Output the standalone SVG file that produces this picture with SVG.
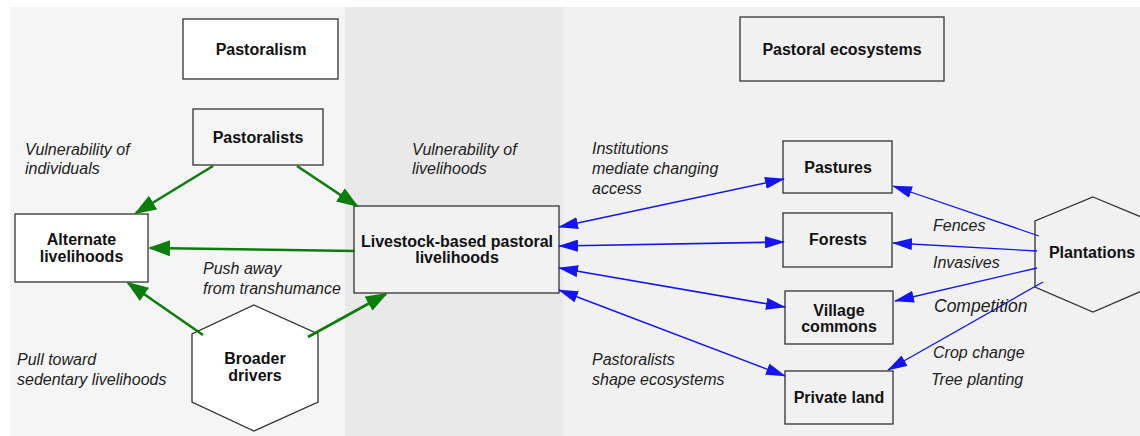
<svg xmlns="http://www.w3.org/2000/svg" width="1140" height="436" viewBox="0 0 1140 436">
<style>
.box{stroke:#333;stroke-width:1.3}
.t{font-family:"Liberation Sans",Arial,sans-serif;font-size:16px;font-weight:bold;fill:#111;text-anchor:middle}
.l{font-family:"Liberation Sans",Arial,sans-serif;font-size:16px;font-style:italic;fill:#222}
.g{stroke:#0a7d0a;stroke-width:2.6;fill:none}
.b{stroke:#1414f5;stroke-width:1.6;fill:none}
.b2{stroke:#1414f5;stroke-width:1.3;fill:none}
</style>
<defs>
<marker id="ag" markerUnits="userSpaceOnUse" markerWidth="22" markerHeight="16" viewBox="0 0 22 16" refX="20" refY="8" orient="auto"><path d="M0,0 L22,8 L0,16 z" fill="#0a7d0a"/></marker>
<marker id="ab" markerUnits="userSpaceOnUse" markerWidth="20" markerHeight="12" viewBox="0 0 20 12" refX="19" refY="6" orient="auto-start-reverse"><path d="M0,0 L20,6 L0,12 z" fill="#1414f5"/></marker>
</defs>
<rect x="0" y="0" width="1140" height="436" fill="#ffffff"/>
<rect x="10" y="7" width="335" height="429" fill="#f5f5f5"/>
<rect x="345" y="7" width="218" height="429" fill="#e9e9e9"/>
<rect x="563" y="7" width="577" height="429" fill="#f1f1f1"/>

<g id="pastoralism"><rect class="box" x="183" y="19" width="155" height="60" fill="#ffffff"/><text class="t" x="261" y="55">Pastoralism</text></g>
<g id="pastoralists"><rect class="box" x="193" y="109" width="130" height="56" fill="#f5f5f5"/><text class="t" x="258" y="143">Pastoralists</text></g>
<g id="alternate"><rect class="box" x="15" y="214" width="133" height="68" fill="#ffffff"/><text class="t" x="81.5" y="245">Alternate</text><text class="t" x="81.5" y="262">livelihoods</text></g>
<g id="livestock"><rect class="box" x="354" y="206" width="205" height="87" fill="#f2f2f2"/><text class="t" x="457" y="247">Livestock-based pastoral</text><text class="t" x="457" y="263">livelihoods</text></g>
<g id="broader"><polygon class="box" points="254,305 318,334 318,402 254,431 192,402 192,334" fill="#ffffff"/><text class="t" x="255" y="364">Broader</text><text class="t" x="255" y="381">drivers</text></g>
<g id="ecosystems"><rect class="box" x="740" y="17" width="204" height="64" fill="#f1f1f1"/><text class="t" x="842" y="55">Pastoral ecosystems</text></g>
<g id="pastures"><rect class="box" x="783" y="141" width="109" height="52" fill="#f1f1f1"/><text class="t" x="838" y="173">Pastures</text></g>
<g id="forests"><rect class="box" x="783" y="213" width="109" height="54" fill="#f1f1f1"/><text class="t" x="838" y="245">Forests</text></g>
<g id="village"><rect class="box" x="785" y="291" width="108" height="53" fill="#f1f1f1"/><text class="t" x="839" y="316">Village</text><text class="t" x="839" y="332">commons</text></g>
<g id="private"><rect class="box" x="785" y="371" width="108" height="53" fill="#f1f1f1"/><text class="t" x="839" y="403">Private land</text></g>
<g id="plantations"><polygon class="box" points="1093,197 1151,221 1151,287 1093,312 1035,287 1035,221" fill="#f1f1f1"/><text class="t" x="1092" y="258">Plantations</text></g>

<g id="connectors">
<line class="g" x1="213" y1="166" x2="136" y2="213" marker-end="url(#ag)"/>
<line class="g" x1="297" y1="166" x2="357" y2="206" marker-end="url(#ag)"/>
<line class="g" x1="355" y1="251" x2="150" y2="248" marker-end="url(#ag)"/>
<line class="g" x1="203" y1="335" x2="128" y2="283" marker-end="url(#ag)"/>
<line class="g" x1="308" y1="337" x2="386" y2="294" marker-end="url(#ag)"/>
<line class="b" x1="559" y1="227" x2="784" y2="179" marker-start="url(#ab)" marker-end="url(#ab)"/>
<line class="b" x1="559" y1="246" x2="784" y2="242" marker-start="url(#ab)" marker-end="url(#ab)"/>
<line class="b" x1="559" y1="268" x2="785" y2="307" marker-start="url(#ab)" marker-end="url(#ab)"/>
<line class="b" x1="559" y1="290" x2="785" y2="376" marker-start="url(#ab)" marker-end="url(#ab)"/>
<line class="b2" x1="1039" y1="236" x2="893" y2="186" marker-end="url(#ab)"/>
<line class="b2" x1="1037" y1="251" x2="893" y2="243" marker-end="url(#ab)"/>
<line class="b2" x1="1037" y1="268" x2="895" y2="301" marker-end="url(#ab)"/>
<line class="b2" x1="1043" y1="282" x2="888" y2="370" marker-end="url(#ab)"/>
</g>

<g id="labels">
<text class="l" x="25" y="155">Vulnerability of</text>
<text class="l" x="25" y="174">individuals</text>
<text class="l" x="412" y="155">Vulnerability of</text>
<text class="l" x="412" y="174">livelihoods</text>
<text class="l" x="592" y="154">Institutions</text>
<text class="l" x="592" y="174">mediate changing</text>
<text class="l" x="592" y="194">access</text>
<text class="l" x="203" y="274">Push away</text>
<text class="l" x="203" y="294">from transhumance</text>
<text class="l" x="17" y="365">Pull toward</text>
<text class="l" x="17" y="385">sedentary livelihoods</text>
<text class="l" x="592" y="365">Pastoralists</text>
<text class="l" x="592" y="385">shape ecosystems</text>
<text class="l" x="933" y="231">Fences</text>
<text class="l" x="933" y="268">Invasives</text>
<text class="l" x="934" y="312" style="font-size:17.5px">Competition</text>
<text class="l" x="933" y="358">Crop change</text>
<text class="l" x="931" y="385">Tree planting</text>
</g>
</svg>
